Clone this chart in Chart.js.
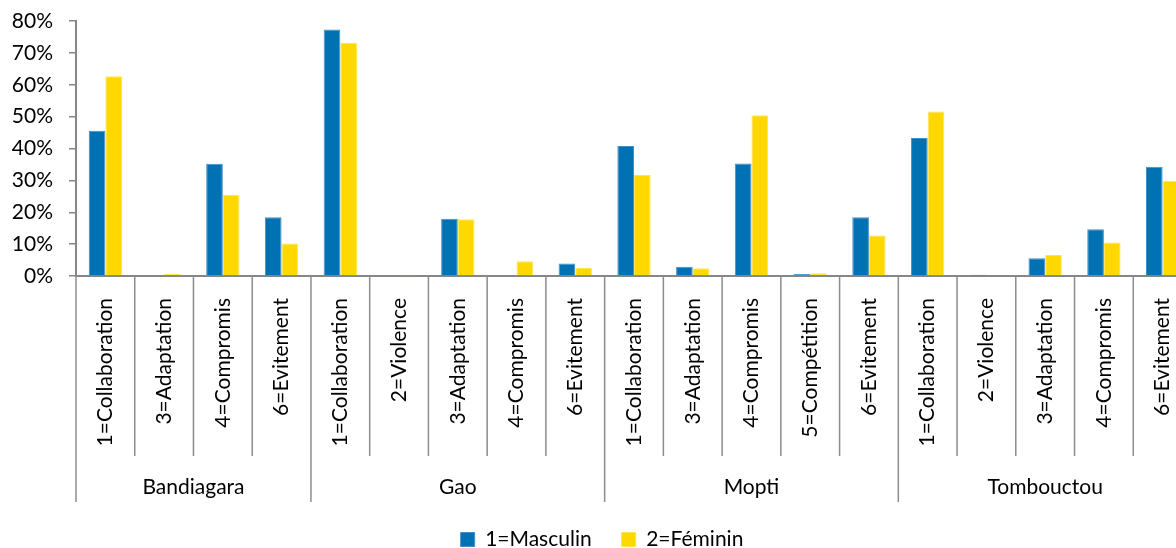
<!DOCTYPE html>
<html lang="fr">
<head>
  <meta charset="UTF-8" />
  <title>Styles de gestion des conflits par région et sexe</title>
  <script src="https://cdn.jsdelivr.net/npm/chart.js"></script>
  <style>
    html, body { margin: 0; padding: 0; background: #fff; overflow: hidden; }
    #wrap { width: 1195px; height: 560px; }
  </style>
</head>
<body>
  <div id="wrap"><canvas id="chart"></canvas></div>

  <script>
    const categories = [
      '1=Collaboration', '3=Adaptation', '4=Compromis', '6=Evitement',
      '1=Collaboration', '2=Violence', '3=Adaptation', '4=Compromis', '6=Evitement',
      '1=Collaboration', '3=Adaptation', '4=Compromis', '5=Compétition', '6=Evitement',
      '1=Collaboration', '2=Violence', '3=Adaptation', '4=Compromis', '6=Evitement'
    ];
    const regions = ['Bandiagara', 'Gao', 'Mopti', 'Tombouctou'];
    const regionSizes = [4, 5, 5, 5];
    const masculin = [45.6, 0, 35.2, 18.4, 77.3, 0, 18.0, 0, 3.9, 40.8, 2.9, 35.3, 0.6, 18.4, 43.3, 0.4, 5.6, 14.7, 34.3];
    const feminin = [62.7, 0.6, 25.5, 10.2, 73.2, 0.3, 17.8, 4.6, 2.5, 31.8, 2.4, 50.4, 0.9, 12.7, 51.6, 0, 6.6, 10.5, 29.9];

    // separators under the axis + region names
    const groupAxis = {
      id: 'groupAxis',
      afterDraw(chart) {
        const x = chart.scales.x, ctx = chart.ctx;
        const step = (x.right - x.left) / categories.length;
        const edges = [0];
        regionSizes.forEach(n => edges.push(edges[edges.length - 1] + n));
        ctx.save();
        ctx.strokeStyle = '#8c8c8c';
        ctx.lineWidth = 1.5;
        for (let i = 0; i <= categories.length; i++) {
          const px = x.left + i * step;
          const len = edges.includes(i) ? 226 : 180;
          ctx.beginPath();
          ctx.moveTo(px, x.top);
          ctx.lineTo(px, x.top + len);
          ctx.stroke();
        }
        ctx.fillStyle = '#000';
        ctx.font = '21px Lato';
        ctx.textAlign = 'center';
        ctx.textBaseline = 'middle';
        regions.forEach((r, k) => {
          const mid = x.left + (edges[k] + edges[k + 1]) / 2 * step;
          ctx.fillText(r, mid, x.top + 211);
        });
        ctx.restore();
      }
    };

    new Chart(document.getElementById('chart'), {
      type: 'bar',
      data: {
        labels: categories,
        datasets: [
          {
            label: '1=Masculin',
            data: masculin,
            backgroundColor: '#0071B3',
            borderColor: '#3F8FC9',
            borderWidth: 1
          },
          {
            label: '2=Féminin',
            data: feminin,
            backgroundColor: '#FFD800',
            borderColor: '#FFE44D',
            borderWidth: 1
          }
        ]
      },
      options: {
        responsive: true,
        maintainAspectRatio: false,
        animation: false,
        categoryPercentage: 0.567,
        barPercentage: 1.0,
        layout: { padding: { left: 12, top: 21, right: 3, bottom: 0 } },
        plugins: {
          legend: {
            position: 'bottom',
            labels: {
              boxWidth: 14,
              boxHeight: 14,
              padding: 30,
              color: '#000',
              font: { family: 'Lato', size: 21 }
            }
          },
          tooltip: { enabled: false }
        },
        scales: {
          x: {
            // invisible tick marks give the gap between axis and labels
            grid: { display: true, drawOnChartArea: false, drawTicks: true, tickLength: 20, color: 'rgba(0,0,0,0)' },
            border: { color: '#868686', width: 2 },
            ticks: {
              color: '#000',
              font: { family: 'Lato', size: 21 },
              minRotation: 90,
              maxRotation: 90,
              padding: 2,
              autoSkip: false
            },
            afterFit(s) { s.height = 223; s.paddingLeft = 0; s.paddingRight = 0; }
          },
          y: {
            min: 0,
            max: 80,
            grid: { drawOnChartArea: false, tickLength: 7, color: '#868686', lineWidth: 1.5 },
            border: { color: '#868686', width: 2 },
            ticks: {
              stepSize: 10,
              padding: 16,
              color: '#000',
              font: { family: 'Lato', size: 21 },
              callback: v => v + '%'
            },
            afterFit(s) { s.width = 64; s.paddingTop = 0; s.paddingBottom = 0; }
          }
        }
      },
      plugins: [groupAxis]
    });
  </script>
</body>
</html>
